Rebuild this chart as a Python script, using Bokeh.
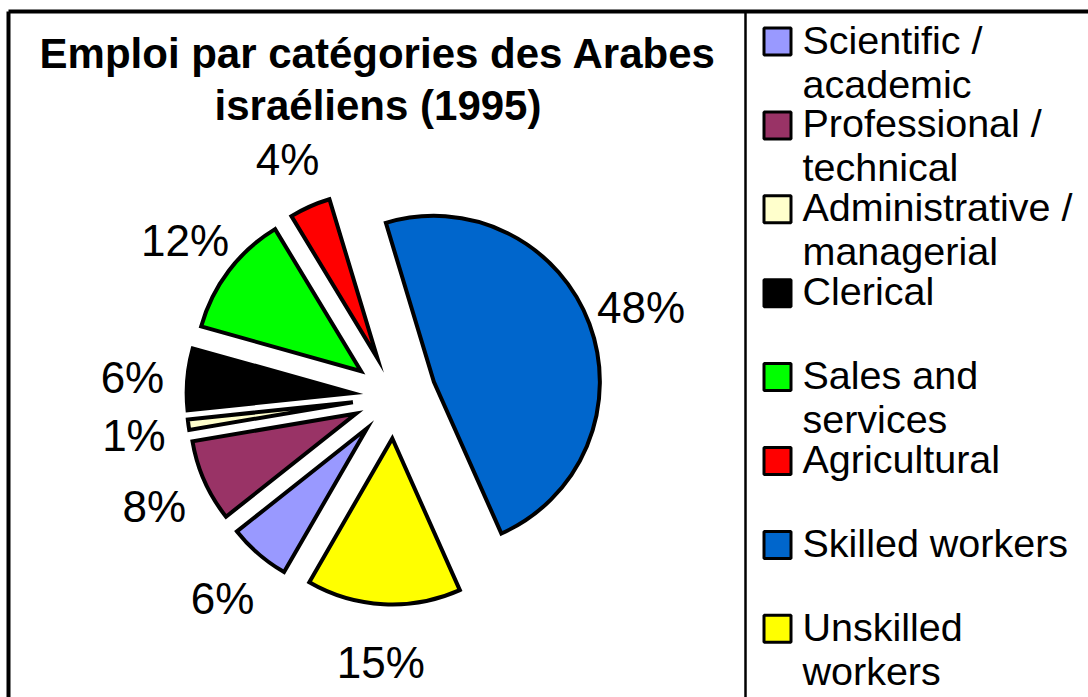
import numpy as np
from bokeh.plotting import figure
from bokeh.models import Range1d
from bokeh.core.properties import value
from bokeh.embed import file_html
from bokeh.resources import INLINE

# ---------------- data ----------------
categories = ["Scientific /\nacademic", "Professional /\ntechnical",
              "Administrative /\nmanagerial", "Clerical", "Sales and\nservices",
              "Agricultural", "Skilled workers", "Unskilled\nworkers"]
shares = [6, 8, 1, 6, 12, 4, 48, 15]
colors = ["#9999FF", "#993366", "#FFFFCC", "#000000", "#00FF00",
          "#FF0000", "#0066CC", "#FFFF00"]
title_lines = ["Emploi par catégories des Arabes", "israéliens (1995)"]

# ---------------- layout (pixels, from top-left) ----------------
W, H = 1088, 697
FONT = "Liberation Sans"
FIRST_ANGLE = 210.0       # first slice angle, clockwise from 12 o'clock
CX, CY = 394, 396         # pie centre
R = 166                   # pie radius
EXPLODE = 42              # slice explosion distance
LABEL_R = 263             # distance of percentage labels from centre


def Y(py):
    return H - py


p = figure(width=W, height=H, x_range=Range1d(0, W), y_range=Range1d(0, H),
           toolbar_location=None, output_backend="svg", min_border=0,
           x_axis_location=None, y_axis_location=None)
p.grid.visible = False
p.outline_line_color = None
p.background_fill_color = "white"
p.border_fill_color = "white"

# ---------------- pie ----------------
total = float(sum(shares))
cum = np.cumsum([0] + shares)
b_start = FIRST_ANGLE + 360.0 * cum[:-1] / total
b_end = FIRST_ANGLE + 360.0 * cum[1:] / total
b_mid = (b_start + b_end) / 2.0
mid = np.radians(90.0 - b_mid)

wx = CX + EXPLODE * np.cos(mid)
wy = Y(CY) + EXPLODE * np.sin(mid)
p.wedge(x=wx, y=wy, radius=R, radius_units="screen",
        start_angle=np.radians(90.0 - b_end), end_angle=np.radians(90.0 - b_start),
        direction="anticlock", fill_color=colors, line_color="black",
        line_width=4, line_join="miter")

pct = [f"{round(100 * s / total):.0f}%" for s in shares]
lx = CX + LABEL_R * np.cos(mid)
ly = Y(CY + 3) + LABEL_R * np.sin(mid)
p.text(x=lx, y=ly, text=pct, text_font=value(FONT), text_font_size="44px",
       text_align="center", text_baseline="middle", text_color="black")

# ---------------- title ----------------
p.text(x=[377.5] * len(title_lines), y=[Y(53 + 52 * i) for i in range(len(title_lines))],
       text=title_lines, text_font=value(FONT), text_font_style="bold",
       text_font_size="42px", text_align="center", text_baseline="alphabetic",
       text_color="black")

# ---------------- legend ----------------
ENTRY = 83.9
sw_x, sw_y = [], []
tx, ty, tt = [], [], []
for i, cat in enumerate(categories):
    sw_x.append(777)
    sw_y.append(Y(41 + ENTRY * i))
    for j, line in enumerate(cat.split("\n")):
        tx.append(802)
        ty.append(Y(39 + ENTRY * i + 44 * j))
        tt.append(line)
p.rect(x=sw_x, y=sw_y, width=27, height=27, width_units="screen",
       height_units="screen", fill_color=colors, line_color="black", line_width=3)
p.text(x=tx, y=ty, text=tt, text_font=value(FONT), text_font_size="39.5px",
       text_align="left", text_baseline="alphabetic", text_color="black")

# ---------------- frame lines ----------------
p.segment(x0=[8, 8, 745], y0=[Y(11), Y(11), Y(11)],
          x1=[W + 20, 8, 745], y1=[Y(11), -20, -20],
          line_color="black", line_width=[4, 4, 2.5])

open("out.html", "w").write(file_html(p, INLINE))
